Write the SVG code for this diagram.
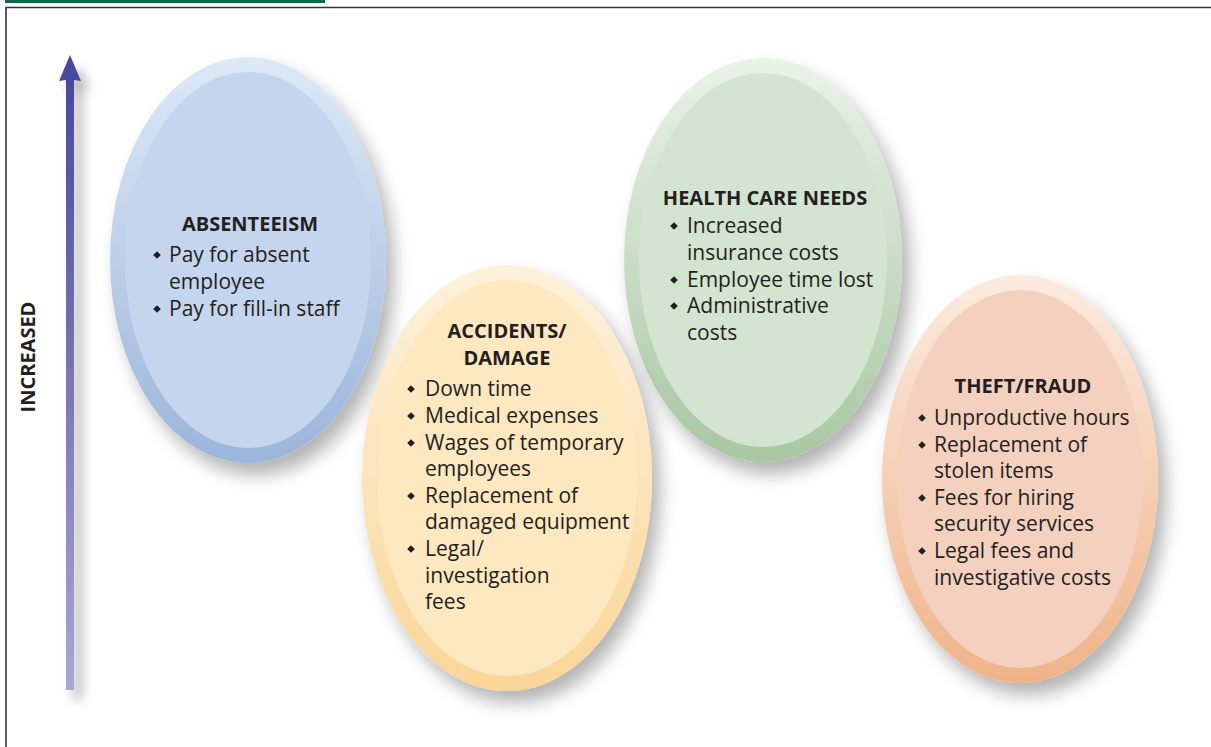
<svg xmlns="http://www.w3.org/2000/svg" xmlns:xlink="http://www.w3.org/1999/xlink" width="1211" height="747" viewBox="0 0 1211 747">
  <defs>
    <style>
      .t { font-family: "Open Sans", "Liberation Sans", sans-serif; font-size: 21px; fill: #231f20; }
      .h { font-family: "Open Sans", "Liberation Sans", sans-serif; font-size: 20px; font-weight: bold; fill: #231f20; text-anchor: middle; }
      .b { fill: #231f20; }
    </style>
    <filter id="sh" x="-30%" y="-30%" width="160%" height="160%">
      <feGaussianBlur in="SourceAlpha" stdDeviation="9"/>
      <feOffset dx="8" dy="12" result="o"/>
      <feComponentTransfer><feFuncA type="linear" slope="0.3"/></feComponentTransfer>
      <feMerge><feMergeNode/><feMergeNode in="SourceGraphic"/></feMerge>
    </filter>
    <filter id="shA" filterUnits="userSpaceOnUse" x="30" y="30" width="90" height="700">
      <feGaussianBlur in="SourceAlpha" stdDeviation="6"/>
      <feOffset dx="8" dy="10" result="o"/>
      <feComponentTransfer><feFuncA type="linear" slope="0.3"/></feComponentTransfer>
      <feMerge><feMergeNode/><feMergeNode in="SourceGraphic"/></feMerge>
    </filter>
    <linearGradient id="gBlue" x1="0" y1="0" x2="0" y2="1">
      <stop offset="0" stop-color="#dde9f6"/><stop offset="1" stop-color="#9cb5db"/>
    </linearGradient>
    <linearGradient id="gYel" x1="0" y1="0" x2="0" y2="1">
      <stop offset="0" stop-color="#fdf2dc"/><stop offset="1" stop-color="#fbd598"/>
    </linearGradient>
    <linearGradient id="gGrn" x1="0" y1="0" x2="0" y2="1">
      <stop offset="0" stop-color="#eaf3e8"/><stop offset="1" stop-color="#a8c7a2"/>
    </linearGradient>
    <linearGradient id="gOra" x1="0" y1="0" x2="0" y2="1">
      <stop offset="0" stop-color="#fcebe0"/><stop offset="1" stop-color="#efb389"/>
    </linearGradient>
    <linearGradient id="gArrow" x1="0" y1="0" x2="0" y2="1">
      <stop offset="0" stop-color="#46469c"/><stop offset="0.55" stop-color="#7f79b8"/><stop offset="1" stop-color="#aba6d2"/>
    </linearGradient>
    <path id="dia" d="M0,-3.8 L3.8,0 L0,3.8 L-3.8,0 Z"/>
  </defs>

  <rect x="0" y="0" width="1211" height="747" fill="#ffffff"/>
  <rect x="5" y="0" width="320" height="3" fill="#11694a"/>
  <path d="M6,747 V7.5 H1211" fill="none" stroke="#333333" stroke-width="1.6"/>

  <g id="axis">
    <g filter="url(#shA)">
      <path d="M66,80 L66,690 L74,690 L74,80 L81,81 L70,55 L59,81 Z" fill="url(#gArrow)"/>
    </g>
    <text class="h" transform="translate(35,357) rotate(-90)">INCREASED</text>
  </g>

  <g id="absenteeism">
    <g filter="url(#sh)">
      <ellipse cx="248" cy="260" rx="138" ry="203" fill="url(#gBlue)"/>
    </g>
    <ellipse cx="248" cy="260" rx="123" ry="188" fill="#c5d5ed"/>
    <text class="h" x="250" y="231">ABSENTEEISM</text>
    <use xlink:href="#dia" class="b" x="157" y="255"/>
    <text class="t" x="169" y="262">Pay for absent</text>
    <text class="t" x="169" y="289">employee</text>
    <use xlink:href="#dia" class="b" x="157" y="309"/>
    <text class="t" x="169" y="316">Pay for fill-in staff</text>
  </g>

  <g id="health">
    <g filter="url(#sh)">
      <ellipse cx="763" cy="260" rx="139" ry="202" fill="url(#gGrn)"/>
    </g>
    <ellipse cx="763" cy="260" rx="124" ry="187" fill="#d3e5d0"/>
    <text class="h" x="765" y="205">HEALTH CARE NEEDS</text>
    <use xlink:href="#dia" class="b" x="674" y="226"/>
    <text class="t" x="687" y="233">Increased</text>
    <text class="t" x="687" y="260">insurance costs</text>
    <use xlink:href="#dia" class="b" x="674" y="280"/>
    <text class="t" x="687" y="287">Employee time lost</text>
    <use xlink:href="#dia" class="b" x="674" y="306"/>
    <text class="t" x="687" y="313">Administrative</text>
    <text class="t" x="687" y="340">costs</text>
  </g>

  <g id="accidents">
    <g filter="url(#sh)">
      <ellipse cx="507" cy="478" rx="145" ry="213" fill="url(#gYel)"/>
    </g>
    <ellipse cx="507" cy="478" rx="130" ry="198" fill="#fee8c0"/>
    <text class="h" x="507" y="338">ACCIDENTS/</text>
    <text class="h" x="507" y="365">DAMAGE</text>
    <use xlink:href="#dia" class="b" x="411" y="389"/>
    <text class="t" x="425" y="396">Down time</text>
    <use xlink:href="#dia" class="b" x="411" y="416"/>
    <text class="t" x="425" y="423">Medical expenses</text>
    <use xlink:href="#dia" class="b" x="411" y="443"/>
    <text class="t" x="425" y="450">Wages of temporary</text>
    <text class="t" x="425" y="476">employees</text>
    <use xlink:href="#dia" class="b" x="411" y="496"/>
    <text class="t" x="425" y="503">Replacement of</text>
    <text class="t" x="425" y="529">damaged equipment</text>
    <use xlink:href="#dia" class="b" x="411" y="549"/>
    <text class="t" x="425" y="556">Legal/</text>
    <text class="t" x="425" y="583">investigation</text>
    <text class="t" x="425" y="609">fees</text>
  </g>

  <g id="theft">
    <g filter="url(#sh)">
      <ellipse cx="1020" cy="479" rx="138" ry="204" fill="url(#gOra)"/>
    </g>
    <ellipse cx="1020" cy="479" rx="123" ry="189" fill="#f4d0be"/>
    <text class="h" x="1023" y="393">THEFT/FRAUD</text>
    <use xlink:href="#dia" class="b" x="922" y="418"/>
    <text class="t" x="934" y="425">Unproductive hours</text>
    <use xlink:href="#dia" class="b" x="922" y="445"/>
    <text class="t" x="934" y="452">Replacement of</text>
    <text class="t" x="934" y="478">stolen items</text>
    <use xlink:href="#dia" class="b" x="922" y="498"/>
    <text class="t" x="934" y="505">Fees for hiring</text>
    <text class="t" x="934" y="531">security services</text>
    <use xlink:href="#dia" class="b" x="922" y="551"/>
    <text class="t" x="934" y="558">Legal fees and</text>
    <text class="t" x="934" y="585">investigative costs</text>
  </g>
</svg>
